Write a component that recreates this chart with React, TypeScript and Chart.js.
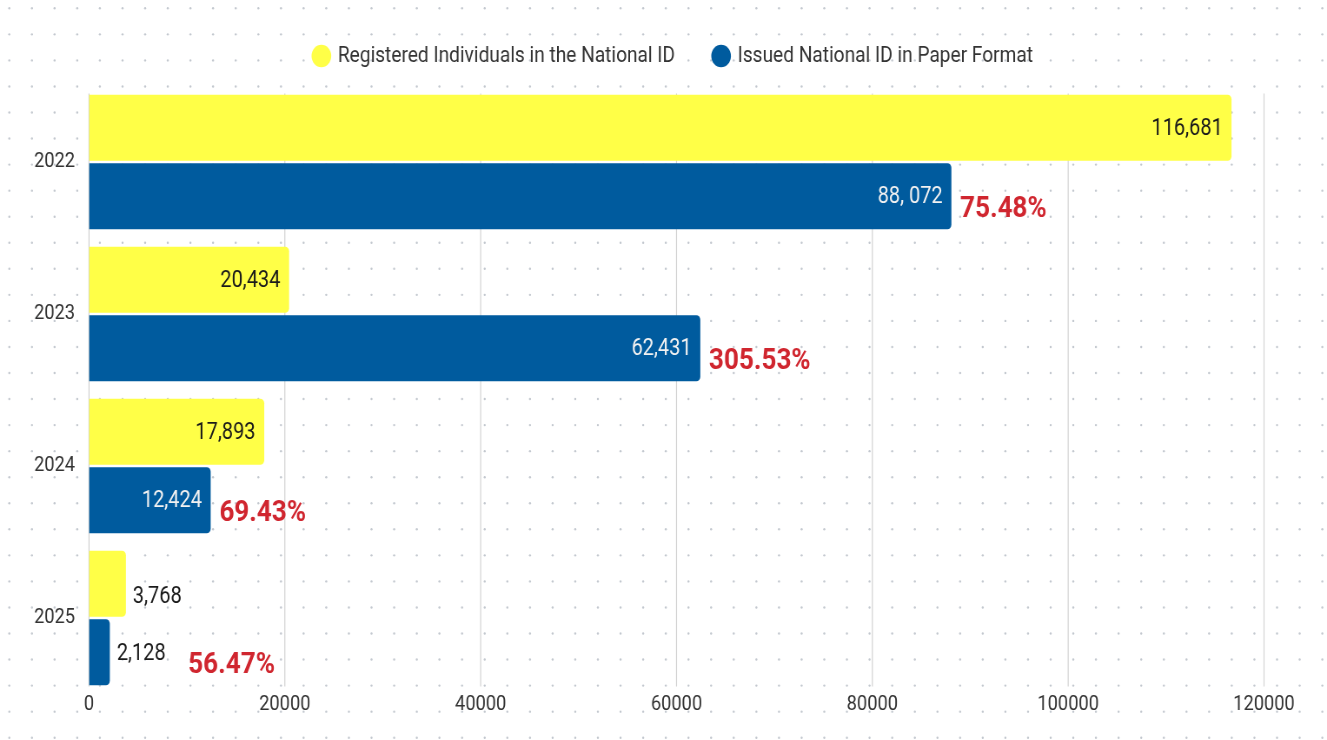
import React, { useEffect, useRef } from 'react';
import { Chart, registerables } from 'chart.js';

Chart.register(...registerables);

// ---- data ----
const years = ['2022', '2023', '2024', '2025'];
const registered = [116681, 20434, 17893, 3768];
const issued = [88072, 62431, 12424, 2128];
const registeredLabels = ['116,681', '20,434', '17,893', '3,768'];
const issuedLabels = ['88, 072', '62,431', '12,424', '2,128'];
const ratioLabels = ['75.48%', '305.53%', '69.43%', '56.47%'];
const xTicks = [0, 20000, 40000, 60000, 80000, 100000, 120000];
const seriesNames = ['Registered Individuals in the National ID', 'Issued National ID in Paper Format'];

// ---- styling ----
const OUT_W = 1327;
const H = 740;
const SX = 0.869; // horizontal squeeze of the original picture
const IN_W = Math.round(OUT_W / SX);
const FONT = 'Roboto, "Noto Sans", sans-serif';
const YELLOW = '#ffff47';
const BLUE = '#005b9e';
const RED = '#d0262f';
const CAT_PCT = 0.9;
const BAR_PCT = 0.965;

const dotPlugin = {
  id: 'dots',
  beforeDraw(chart: any) {
    const ctx = chart.ctx;
    ctx.save();
    ctx.fillStyle = '#c3c8cf';
    for (let y = 8.3; y < chart.height; y += 26.05) {
      for (let x = 10.7; x < chart.width; x += 26.05) {
        ctx.beginPath();
        ctx.arc(x, y, 1.2, 0, Math.PI * 2);
        ctx.fill();
      }
    }
    ctx.restore();
  },
};

const gridPlugin = {
  id: 'customGrid',
  beforeDatasetsDraw(chart: any) {
    const ctx = chart.ctx;
    const xs = chart.scales.x;
    const ys = chart.scales.y;
    const band = (ys.bottom - ys.top) / years.length;
    const half = (band * CAT_PCT) / 2;
    const top = ys.getPixelForValue(0) - half;
    const bottom = ys.getPixelForValue(years.length - 1) + half;
    ctx.save();
    ctx.strokeStyle = '#d2d2d2';
    ctx.lineWidth = 1.2;
    xTicks.forEach((v) => {
      const px = xs.getPixelForValue(v);
      ctx.beginPath();
      ctx.moveTo(px, top);
      ctx.lineTo(px, bottom);
      ctx.stroke();
    });
    ctx.restore();
  },
};

const legendGap = {
  id: 'legendGap',
  beforeInit(chart: any) {
    const lg = chart.legend;
    if (!lg) return;
    const orig = lg.fit;
    lg.fit = function () {
      orig.call(this);
      this.height += 9;
      if (this.lineWidths && this.lineWidths.length) this.lineWidths[0] -= 96;
    };
  },
};

const labelPlugin = {
  id: 'barLabels',
  afterDatasetsDraw(chart: any) {
    const ctx = chart.ctx;
    ctx.save();
    ctx.textBaseline = 'middle';
    const valueFont = `23px ${FONT}`;
    const drawSet = (dsIndex: number, labels: string[], inColor: string, outDy: number) => {
      const ends: number[] = [];
      chart.getDatasetMeta(dsIndex).data.forEach((bar: any, i: number) => {
        const { x, y, base } = bar.getProps(['x', 'y', 'base'], true);
        ctx.font = valueFont;
        const text = labels[i];
        const w = ctx.measureText(text).width;
        if (x - base > w + 22) {
          ctx.fillStyle = inColor;
          ctx.textAlign = 'right';
          ctx.fillText(text, x - 10, y + 1);
          ends.push(-1);
        } else {
          ctx.fillStyle = '#1a1a1a';
          ctx.textAlign = 'left';
          ctx.fillText(text, x + 8, y + outDy);
          ends.push(x + 8 + w);
        }
      });
      return ends;
    };
    drawSet(0, registeredLabels, '#1a1a1a', 13);
    const ends = drawSet(1, issuedLabels, '#f2f2f2', 2);
    ctx.font = `bold 30px ${FONT}`;
    ctx.fillStyle = RED;
    ctx.textAlign = 'left';
    chart.getDatasetMeta(1).data.forEach((bar: any, i: number) => {
      const { x, y } = bar.getProps(['x', 'y'], true);
      const startX = ends[i] > 0 ? ends[i] + 26 : x + 10;
      ctx.fillText(ratioLabels[i], startX, y + 13);
    });
    ctx.restore();
  },
};

export default function App() {
  const ref = useRef<HTMLCanvasElement | null>(null);

  useEffect(() => {
    if (!ref.current) return;
    const chart = new Chart(ref.current, {
      type: 'bar',
      data: {
        labels: years,
        datasets: [
          {
            label: seriesNames[0],
            data: registered,
            backgroundColor: YELLOW,
            borderRadius: 4.5,
            borderSkipped: 'start',
            categoryPercentage: CAT_PCT,
            barPercentage: BAR_PCT,
          },
          {
            label: seriesNames[1],
            data: issued,
            backgroundColor: BLUE,
            borderRadius: 4.5,
            borderSkipped: 'start',
            categoryPercentage: CAT_PCT,
            barPercentage: BAR_PCT,
          },
        ],
      },
      options: {
        indexAxis: 'y',
        animation: false,
        responsive: false,
        devicePixelRatio: 1,
        layout: { padding: { top: 0, left: 0, right: 72.5, bottom: 0 } },
        scales: {
          x: {
            type: 'linear',
            min: 0,
            max: 120000,
            afterBuildTicks: (scale: any) => {
              scale.ticks = xTicks.map((v) => ({ value: v }));
            },
            afterFit: (scale: any) => {
              scale.height = 46;
            },
            grid: { display: false, drawTicks: false },
            border: { display: false },
            ticks: {
              padding: 0,
              color: '#333',
              font: { family: FONT, size: 21, lineHeight: 1 },
              callback: (v: any) => String(v),
            },
          },
          y: {
            type: 'category',
            afterFit: (scale: any) => {
              scale.width = 89 / SX;
            },
            grid: { display: false, drawTicks: false },
            border: { display: false },
            ticks: {
              padding: 16,
              color: '#333',
              font: { family: FONT, size: 21 },
            },
          },
        },
        plugins: {
          legend: {
            position: 'top',
            labels: {
              usePointStyle: true,
              pointStyle: 'circle',
              boxWidth: 16,
              boxHeight: 16,
              padding: 45,
              color: '#333',
              font: { family: FONT, size: 22 },
            },
          },
          tooltip: { enabled: false },
        },
      },
      plugins: [dotPlugin, gridPlugin, legendGap, labelPlugin],
    } as any);
    return () => chart.destroy();
  }, []);

  return (
    <div style={{ position: 'fixed', left: 0, top: 0, width: OUT_W, height: H, background: '#fff' }}>
      <canvas
        ref={ref}
        width={IN_W}
        height={H}
        style={{ width: `${OUT_W}px`, height: `${H}px`, display: 'block' }}
      />
    </div>
  );
}
